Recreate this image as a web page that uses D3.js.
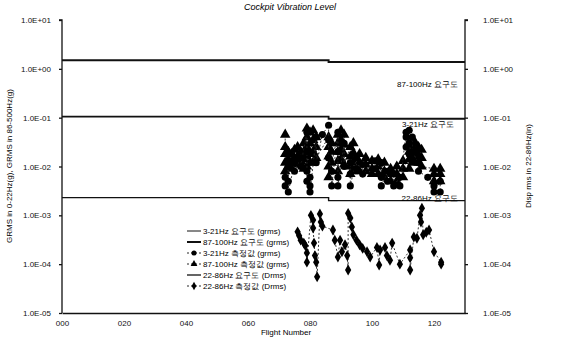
<!DOCTYPE html>
<html>
<head>
<meta charset="utf-8">
<script src="https://cdn.jsdelivr.net/npm/d3@7"></script>
<style>
  body { margin: 0; background: #fff; }
  text { font-family: "Liberation Sans", Arial, sans-serif; }
</style>
</head>
<body>
<div id="chart"></div>
<script>
// requirement levels (step lines)
const reqFlights = [0, 86, 130];
const req321 = [0.105, 0.095, 0.095];
const req87 = [1.5, 1.38, 1.38];
const req2286 = [2.3e-3, 2.0e-3, 2.0e-3];

// measured: 87-100Hz (grms), several readings per flight
const m87Flights = [72, 73, 74, 75, 76, 77, 78, 79, 80, 81, 82, 86, 87, 89, 90, 91, 93, 94, 96, 98, 100, 102, 104, 106, 108, 110, 112, 113, 114, 115, 116, 120, 122];
const m87Values = [
  [0.045, 0.025, 0.018, 0.012, 0.008], [0.02, 0.014, 0.01], [0.018, 0.012, 0.009], [0.022, 0.015, 0.011],
  [0.025, 0.016, 0.012], [0.02, 0.013], [0.03, 0.02, 0.014, 0.009], [0.06, 0.04, 0.025, 0.016, 0.01],
  [0.05, 0.03, 0.018, 0.012], [0.055, 0.035, 0.02, 0.012], [0.04, 0.025, 0.015], [0.04, 0.025, 0.016, 0.01, 0.006],
  [0.03, 0.02, 0.012], [0.045, 0.03, 0.02, 0.013, 0.008], [0.055, 0.035, 0.022, 0.014], [0.045, 0.028, 0.018, 0.011],
  [0.025, 0.016, 0.01, 0.007], [0.03, 0.019, 0.012, 0.008], [0.018, 0.012, 0.008], [0.015, 0.011, 0.008],
  [0.013, 0.009, 0.007], [0.014, 0.01, 0.007], [0.012, 0.008, 0.006], [0.009, 0.007, 0.005],
  [0.01, 0.007, 0.005], [0.013, 0.009, 0.006], [0.03, 0.02, 0.014, 0.009], [0.035, 0.025, 0.017, 0.012],
  [0.03, 0.02, 0.014], [0.025, 0.017, 0.012], [0.022, 0.015, 0.01], [0.009, 0.007, 0.005], [0.009, 0.007, 0.005]
];

// measured: 3-21Hz (grms)
const m321Flights = [72, 73, 75, 77, 79, 80, 82, 84, 86, 87, 89, 91, 93, 95, 97, 101, 103, 105, 107, 109, 111, 112, 113, 115, 118, 120, 122];
const m321Values = [
  [0.006, 0.004], [0.01, 0.005, 0.003], [0.012, 0.008], [0.015, 0.01], [0.05, 0.02, 0.008, 0.005],
  [0.006, 0.004, 0.003], [0.04, 0.012], [0.045], [0.07, 0.035, 0.015], [0.008, 0.004],
  [0.05, 0.02, 0.006, 0.004], [0.03, 0.01], [0.012, 0.007, 0.004], [0.015, 0.009], [0.011, 0.007],
  [0.013, 0.009], [0.012, 0.006, 0.004], [0.008, 0.005], [0.007, 0.004], [0.006, 0.004],
  [0.05, 0.04, 0.025], [0.055, 0.03, 0.018], [0.04, 0.02], [0.012, 0.008], [0.006], [0.004, 0.003], [0.005, 0.003]
];

// measured: 22-86Hz displacement (Drms)
const m2286Flights = [76, 76.5, 77, 78, 78.5, 79, 79, 80.3, 81, 81, 81.3, 81.6, 82, 82.3, 83.2, 83.5, 84,
  87.4, 88, 89, 89.7, 90.3, 91.3, 92, 92.3, 92.3, 93, 93.5, 94, 95, 96, 97, 98.4, 99.4,
  101.6, 102.3, 102.6, 104.2, 104.8, 105.8, 106.5, 109, 112.3, 112.3, 112.3,
  113.5, 114.5, 115.5, 115.8, 116.1, 116.5, 117.5, 118.4, 120, 122.3, 122.3];
const m2286Values = [4.6e-4, 3.8e-4, 3.1e-4, 2.7e-4, 2.4e-4, 1.7e-4, 1.1e-4, 1.0e-3, 8e-4, 5.5e-4, 2.7e-4, 1.5e-4, 1.1e-4, 5.5e-5, 1.07e-3, 7.3e-4, 6e-4,
  5e-4, 3.1e-4, 1.4e-4, 3.1e-4, 1.8e-4, 2.5e-4, 1.5e-4, 7.6e-5, 1.1e-3, 8.8e-4, 5.8e-4, 4e-4, 3.1e-4, 2.5e-4, 2.1e-4, 1.8e-4, 1.4e-4,
  2.2e-4, 9.6e-5, 1.95e-4, 2.2e-4, 1.5e-4, 1.2e-4, 2.7e-4, 1.0e-4, 1.95e-4, 1.35e-4, 7.6e-5,
  3.6e-4, 3.4e-4, 1.0e-3, 7.3e-4, 1.4e-3, 4e-4, 4.5e-4, 5e-4, 1.8e-4, 1.1e-4, 1.0e-4];

const yTicks = [1e-5, 1e-4, 1e-3, 1e-2, 1e-1, 1, 10];
const xTicks = [0, 20, 40, 60, 80, 100, 120];

const width = 565, height = 342;
const svg = d3.select("#chart").append("svg")
  .attr("width", width).attr("height", height);

const x = d3.scaleLinear().domain([0, 130]).range([62, 465]);
const y = d3.scaleLog().domain([1e-5, 10]).range([313, 20]);

const expFmt = d => {
  const e = Math.round(Math.log10(d));
  return "1.0E" + (e < 0 ? "-" : "+") + String(Math.abs(e)).padStart(2, "0");
};

// axes
const gl = svg.append("g").attr("transform", "translate(62,0)")
  .call(d3.axisLeft(y).tickValues(yTicks).tickFormat(expFmt).tickSize(3).tickPadding(8));
const gr = svg.append("g").attr("transform", "translate(465,0)")
  .call(d3.axisRight(y).tickValues(yTicks).tickFormat(expFmt).tickSize(3).tickPadding(15));
const gb = svg.append("g").attr("transform", "translate(0,313)")
  .call(d3.axisBottom(x).tickValues(xTicks).tickFormat(d3.format("03d")).tickSize(0).tickPadding(7));
[gl, gr, gb].forEach(g => {
  g.selectAll("text").style("font-size", "8px").attr("fill", "#111");
  g.selectAll("path, line").attr("stroke", "#111").attr("stroke-width", 1.3);
});
gl.select(".domain").attr("d", "M-3,20H0V313");
gr.select(".domain").attr("d", "M3,20H0V313");

// titles
svg.append("text").attr("x", 290).attr("y", 10).attr("text-anchor", "middle")
  .style("font-size", "9px").style("font-style", "italic").text("Cockpit Vibration Level");
svg.append("text").attr("x", 286).attr("y", 335).attr("text-anchor", "middle")
  .style("font-size", "8px").text("Flight Number");
svg.append("text").attr("transform", "translate(12,166)rotate(-90)").attr("text-anchor", "middle")
  .style("font-size", "8px").text("GRMS in 0-22Hz(g), GRMS in 86-500Hz(g)");
svg.append("text").attr("transform", "translate(531,166)rotate(-90)").attr("text-anchor", "middle")
  .style("font-size", "8px").text("Disp rms in 22-86Hz(in)");

// requirement lines
const reqLine = d3.line().curve(d3.curveStepAfter)
  .x((d, i) => x(reqFlights[i])).y(d => y(d));
svg.append("path").attr("d", reqLine(req87)).attr("fill", "none").attr("stroke", "#111").attr("stroke-width", 2);
svg.append("path").attr("d", reqLine(req321)).attr("fill", "none").attr("stroke", "#111").attr("stroke-width", 1.8);
svg.append("path").attr("d", reqLine(req2286)).attr("fill", "none").attr("stroke", "#111").attr("stroke-width", 1.4);

// flatten grouped readings
const flat = (fl, vals) => fl.flatMap((f, i) => vals[i].map(v => [f, v]));
const s87 = flat(m87Flights, m87Values);
const s321 = flat(m321Flights, m321Values);
const s2286 = m2286Flights.map((f, i) => [f, m2286Values[i]]);

const mLine = d3.line().x(d => x(d[0])).y(d => y(d[1]));
const series = [
  { data: s87, sym: d3.symbolTriangle, size: 48 },
  { data: s321, sym: d3.symbolCircle, size: 40 },
  { data: s2286, sym: d3.symbolDiamond, size: 34 }
];
series.forEach(s => {
  svg.append("path").attr("d", mLine(s.data)).attr("fill", "none")
    .attr("stroke", "#222").attr("stroke-width", 0.9).attr("stroke-dasharray", "2,2");
  svg.append("g").selectAll("path").data(s.data).enter().append("path")
    .attr("transform", d => `translate(${x(d[0])},${y(d[1])})`)
    .attr("d", d3.symbol().type(s.sym).size(s.size))
    .attr("fill", "#000");
});

// requirement labels
const lab = (t, xx, yy) => svg.append("text").attr("x", xx).attr("y", yy).attr("text-anchor", "end")
  .style("font-size", "8px").text(t);
lab("87-100Hz 요구도", 458, 87);
lab("3-21Hz 요구도", 454, 127);
lab("22-86Hz 요구도", 458, 201);

// legend
const legend = [
  { t: "3-21Hz 요구도 (grms)", w: 1, dash: null, sym: null },
  { t: "87-100Hz 요구도 (grms)", w: 2, dash: null, sym: null },
  { t: "3-21Hz 측정값 (grms)", w: 0.9, dash: "2,2", sym: d3.symbolCircle },
  { t: "87-100Hz 측정값 (grms)", w: 0.9, dash: "2,2", sym: d3.symbolTriangle },
  { t: "22-86Hz 요구도 (Drms)", w: 1.3, dash: null, sym: null },
  { t: "22-86Hz 측정값 (Drms)", w: 0.9, dash: "2,2", sym: d3.symbolDiamond }
];
const lg = svg.append("g").attr("transform", "translate(187,231)");
legend.forEach((e, i) => {
  const yy = i * 11;
  lg.append("line").attr("x1", 0).attr("x2", 14).attr("y1", yy).attr("y2", yy)
    .attr("stroke", "#111").attr("stroke-width", e.w).attr("stroke-dasharray", e.dash);
  if (e.sym) lg.append("path").attr("transform", `translate(7,${yy})`)
    .attr("d", d3.symbol().type(e.sym).size(20)).attr("fill", "#000");
  lg.append("text").attr("x", 16).attr("y", yy + 3).style("font-size", "8px").text(e.t);
});
</script>
</body>
</html>
